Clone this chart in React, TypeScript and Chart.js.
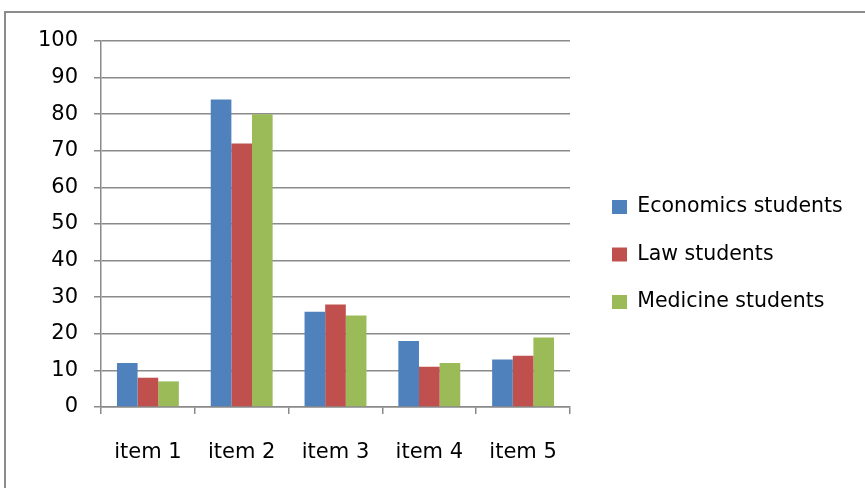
import React, { useEffect, useRef } from "react";
import { Chart, registerables } from "chart.js";

Chart.register(...registerables);

const categories = ["item 1", "item 2", "item 3", "item 4", "item 5"];
const economicsStudents = [12, 84, 26, 18, 13];
const lawStudents = [8, 72, 28, 11, 14];
const medicineStudents = [7, 80, 25, 12, 19];
const seriesNames = ["Economics students", "Law students", "Medicine students"];
const yMin = 0;
const yMax = 100;
const yStep = 10;

const FONT = "'DejaVu Sans', sans-serif";
const GRID = "#8a8a8a";

export default function App() {
  const ref = useRef<HTMLCanvasElement>(null);

  useEffect(() => {
    if (!ref.current) return;
    const legendFit = {
      id: "legendFit",
      beforeInit(chart: any) {
        const leg = chart.legend;
        if (leg) {
          const orig = leg.fit;
          leg.fit = function () {
            orig.call(this);
            this.width = 295;
          };
        }
      },
      afterLayout(chart: any) {
        if (chart.legend) chart.legend.left += 15;
      },
    };

    const chart = new Chart(ref.current, {
      type: "bar",
      data: {
        labels: categories,
        datasets: [
          { label: seriesNames[0], data: economicsStudents, backgroundColor: "#4F81BD" },
          { label: seriesNames[1], data: lawStudents, backgroundColor: "#C0504D" },
          { label: seriesNames[2], data: medicineStudents, backgroundColor: "#9BBB59" },
        ],
      },
      options: {
        responsive: false,
        animation: false,
        devicePixelRatio: 1,
        layout: { padding: { top: 41, bottom: 20, left: 0, right: 0 } },
        datasets: {
          bar: { categoryPercentage: 0.66, barPercentage: 1.0, borderWidth: 0 },
        },
        plugins: {
          tooltip: { enabled: false },
          legend: {
            position: "right",
            align: "center",
            labels: {
              color: "#000",
              font: { family: FONT, size: 20.5 },
              boxWidth: 15,
              boxHeight: 14,
              padding: 27,
            },
          },
        },
        scales: {
          x: {
            grid: {
              display: true,
              drawOnChartArea: false,
              drawTicks: true,
              tickLength: 7,
              color: GRID,
              lineWidth: 1.5,
              offset: true,
            },
            border: { display: true, color: GRID, width: 1.5 },
            ticks: {
              color: "#000",
              font: { family: FONT, size: 21 },
              padding: 26,
              maxRotation: 0,
            },
            afterFit: (scale: any) => {
              scale.height = 61;
            },
          },
          y: {
            min: yMin,
            max: yMax,
            grid: {
              color: GRID,
              lineWidth: 1.5,
              drawTicks: true,
              tickLength: 7,
            },
            border: { display: true, color: GRID, width: 1.5 },
            ticks: {
              stepSize: yStep,
              color: "#000",
              font: { family: FONT, size: 21 },
              padding: 16,
            },
            afterFit: (scale: any) => {
              scale.width = 101;
            },
          },
        },
      },
      plugins: [legendFit],
    });
    return () => chart.destroy();
  }, []);

  return (
    <div style={{ position: "fixed", left: 0, top: 0, width: 865, height: 488, background: "#fff", overflow: "hidden" }}>
      <div
        style={{
          position: "absolute",
          left: 4,
          top: 11,
          width: 900,
          height: 520,
          border: "2px solid #8c8c8c",
          boxSizing: "border-box",
        }}
      />
      <canvas ref={ref} width={865} height={488} style={{ position: "absolute", left: 0, top: 0 }} />
    </div>
  );
}
